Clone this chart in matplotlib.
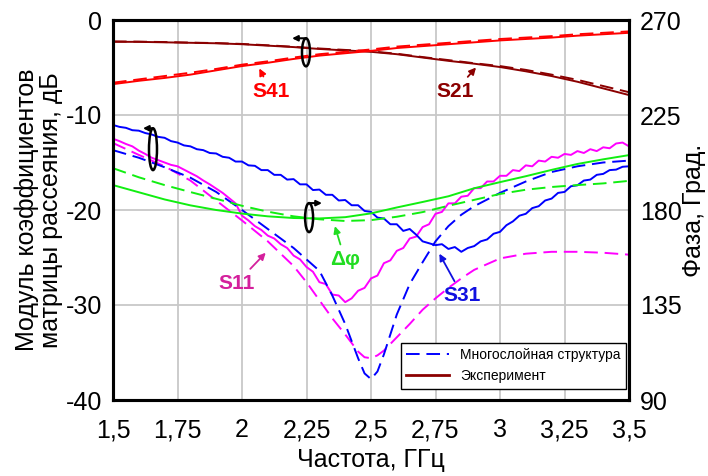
import numpy as np
import matplotlib.pyplot as plt
from matplotlib.patches import Ellipse

plt.rcParams['font.family'] = ['Liberation Sans', 'DejaVu Sans']
plt.rcParams['axes.unicode_minus'] = False

# Frequency grids, GHz
f_fine = np.linspace(1.5, 3.5, 81)  # 0.025 step, measured curves
f_coarse = np.linspace(1.5, 3.5, 21)  # 0.1 step
f_model = [1.5, 1.6, 1.7, 1.8, 1.9, 2.0, 2.1, 2.2, 2.25, 2.3, 2.35, 2.4, 2.45, 2.475, 2.5,
           2.525, 2.55, 2.6, 2.65, 2.7, 2.75, 2.8, 2.85, 2.9, 3.0, 3.1, 3.2, 3.3, 3.4, 3.5]

# S21, dB
s21_exp = [-2.3, -2.3, -2.35, -2.4, -2.45, -2.55, -2.7, -2.85, -3.05, -3.2, -3.35,
           -3.6, -3.95, -4.3, -4.6, -4.95, -5.4, -5.9, -6.5, -7.2, -7.9]
s21_mod = [-2.25, -2.28, -2.32, -2.38, -2.43, -2.52, -2.66, -2.82, -3.0, -3.15, -3.3,
           -3.55, -3.9, -4.22, -4.55, -4.85, -5.25, -5.75, -6.3, -6.95, -7.6]

# S41, dB
s41_exp = [-6.75, -6.4, -6.1, -5.75, -5.3, -4.85, -4.5, -4.1, -3.75, -3.5, -3.25,
           -2.95, -2.75, -2.55, -2.35, -2.15, -2.0, -1.85, -1.65, -1.5, -1.35]
s41_mod = [-6.6, -6.25, -5.9, -5.55, -5.15, -4.7, -4.35, -3.95, -3.6, -3.35, -3.1,
           -2.8, -2.6, -2.4, -2.2, -2.0, -1.85, -1.7, -1.5, -1.35, -1.2]

# S31, dB
s31_exp = [-11.05, -11.25, -11.35, -11.6, -11.65, -11.9, -12.05, -12.3, -12.4, -12.75,
           -12.9, -13.2, -13.3, -13.6, -13.7, -14.0, -14.05, -14.4, -14.5, -14.9,
           -14.9, -15.3, -15.35, -15.8, -15.8, -16.3, -16.3, -16.8, -16.75, -17.3,
           -17.3, -17.9, -17.85, -18.4, -18.4, -19.0, -18.95, -19.5, -19.5, -20.1,
           -20.2, -20.8, -20.9, -21.5, -21.5, -22.2, -22.0, -22.6, -23.3, -23.5,
           -23.7, -23.6, -24.1, -23.9, -24.4, -24.0, -23.8, -23.3, -23.1, -22.5,
           -22.3, -21.6, -21.2, -20.6, -20.4, -19.8, -19.6, -19.0, -18.8, -18.2,
           -18.1, -17.5, -17.4, -16.9, -16.8, -16.3, -16.2, -15.8, -15.75, -15.45,
           -15.4]
s31_mod = [-13.7, -14.5, -15.5, -16.6, -18.1, -20.0, -22.0, -24.0, -25.2, -26.4,
           -29.0, -32.0, -35.6, -37.2, -37.8, -37.0, -35.2, -31.0, -27.8, -25.5,
           -23.3, -21.7, -20.5, -19.6, -18.2, -17.0, -16.0, -15.4, -15.0, -14.8]

# S11, dB
s11_exp = [-12.5, -12.75, -13.05, -13.3, -13.75, -14.1, -14.5, -14.75, -15.0, -15.25,
           -15.4, -15.75, -16.1, -16.45, -16.9, -17.3, -17.75, -18.2, -18.75, -19.3,
           -20.6, -21.1, -21.7, -22.1, -22.7, -23.0, -23.6, -24.0, -24.8, -25.2,
           -26.0, -26.5, -27.6, -27.8, -28.9, -29.0, -29.7, -29.3, -28.5, -28.2,
           -27.2, -26.9, -25.6, -25.3, -24.3, -24.0, -23.0, -22.8, -21.8, -21.5,
           -20.4, -20.2, -19.3, -19.3, -18.6, -18.5, -17.7, -17.7, -17.0, -17.0,
           -16.4, -16.4, -15.8, -15.9, -15.3, -15.4, -14.8, -14.9, -14.4, -14.5,
           -14.1, -14.2, -13.8, -14.0, -13.6, -13.8, -13.4, -13.5, -13.0, -12.9,
           -13.3]
s11_mod = [-12.95, -14.2, -15.4, -16.9, -19.0, -21.1, -23.3, -25.9, -27.6, -29.5,
           -31.4, -33.1, -34.9, -35.5, -35.6, -35.3, -34.8, -33.4, -32.0, -30.5,
           -29.3, -28.2, -27.2, -26.3, -25.1, -24.6, -24.4, -24.4, -24.5, -24.7]

# Phase difference, degrees
dphi_exp = [191.8, 188.4, 185.0, 182.2, 180.0, 178.3, 177.0, 176.2, 176.0, 176.6, 178.4,
            181.2, 183.8, 186.5, 190.3, 193.2, 196.0, 199.0, 201.8, 204.0, 206.0]
dphi_mod = [199.8, 195.5, 191.8, 188.5, 185.3, 182.0, 179.2, 177.0, 175.6, 174.8, 175.2,
            176.8, 179.0, 182.0, 184.8, 187.6, 189.6, 190.9, 191.8, 192.6, 193.8]

c_blue = '#0000ff'
c_mag = '#ff00ff'
c_green = '#11ee11'
c_red = '#ff0000'
c_dred = '#8b0000'
lw = 1.4
dash = (7, 3.5)

fig = plt.figure(figsize=(7.08, 4.76), dpi=100)
ax = fig.add_axes([113 / 708, 1 - 400 / 476, 516 / 708, 380 / 476])
ax2 = ax.twinx()

ax.plot(f_coarse, s21_mod, color=c_dred, lw=lw, dashes=dash)
ax.plot(f_coarse, s21_exp, color=c_dred, lw=lw)
ax.plot(f_coarse, s41_mod, color=c_red, lw=lw, dashes=dash)
ax.plot(f_coarse, s41_exp, color=c_red, lw=lw)
ax.plot(f_model, s11_mod, color=c_mag, lw=lw, dashes=dash)
ax.plot(f_fine, s11_exp, color=c_mag, lw=lw)
l_mod, = ax.plot(f_model, s31_mod, color=c_blue, lw=lw, dashes=dash)
ax.plot(f_fine, s31_exp, color=c_blue, lw=lw)
ax2.plot(f_coarse, dphi_mod, color=c_green, lw=lw, dashes=dash)
ax2.plot(f_coarse, dphi_exp, color=c_green, lw=lw)

ax.set_xlim(1.5, 3.5)
ax.set_ylim(-40, 0)
ax2.set_ylim(90, 270)
xt = [1.5, 1.75, 2.0, 2.25, 2.5, 2.75, 3.0, 3.25, 3.5]
ax.set_xticks(xt)
ax.set_xticklabels(['1,5', '1,75', '2', '2,25', '2,5', '2,75', '3', '3,25', '3,5'])
ax.set_yticks([0, -10, -20, -30, -40])
ax2.set_yticks([90, 135, 180, 225, 270])
ax.grid(True, color='#c8c8c8', lw=1.3)
ax.set_axisbelow(True)
for a in (ax, ax2):
    a.tick_params(length=0, labelsize=18, pad=8)
    for s in a.spines.values():
        s.set_linewidth(2.2)
ax.tick_params(axis='x', pad=13)

ax.set_xlabel('Частота, ГГц', fontsize=18, labelpad=4)
ax.set_ylabel('Модуль коэффициентов\nматрицы рассеяния, дБ', fontsize=18, labelpad=2,
              linespacing=1.0)
ax2.set_ylabel('Фаза, Град.', fontsize=18, labelpad=0)

# Axis markers (ellipse + arrow)
for cx, cy, h, x_end in [(2.248, -3.4, 2.95, 2.194), (1.655, -13.6, 4.4, 1.616),
                         (2.26, -20.8, 3.05, 2.31)]:
    ax2.add_patch(Ellipse((cx, 90 + (cy + 40) * 4.5), 0.031, h * 4.5, fill=False,
                          ec='black', lw=1.8, zorder=5))
    ytop = 90 + (cy + h / 2 + 40) * 4.5
    ax2.annotate('', xy=(x_end, ytop), xytext=(cx, ytop),
                 arrowprops=dict(arrowstyle='-|>', color='black', lw=1.5,
                                 mutation_scale=8, shrinkA=0, shrinkB=0), zorder=5)

# Curve labels
for txt, col, xy, xyt in [('S41', c_red, (2.067, -5.1), (2.112, -7.5)),
                          ('S21', c_dred, (2.907, -5.0), (2.826, -7.5)),
                          ('S11', '#d4209c', (2.092, -24.5), (1.979, -27.7)),
                          ('Δφ', '#22dd22', (2.36, -21.7), (2.399, -25.2)),
                          ('S31', '#1010e0', (2.765, -24.6), (2.855, -29.05))]:
    ax.annotate(txt, xy=xy, xytext=xyt, color=col, fontsize=15, fontweight='bold',
                ha='center', va='center',
                arrowprops=dict(arrowstyle='-|>', color=col, lw=1.3, mutation_scale=10,
                                shrinkA=2, shrinkB=0))

l_exp, = ax.plot([], [], color=c_dred, lw=2)
leg = ax2.legend([l_mod, l_exp], ['Многослойная структура', 'Эксперимент'],
                 loc='lower right', bbox_to_anchor=(0.995, 0.03), fontsize=10,
                 fancybox=False, framealpha=1, edgecolor='black', handlelength=3.1,
                 borderaxespad=0)
leg.get_frame().set_linewidth(1.0)

fig.savefig('out.png', dpi=100)
